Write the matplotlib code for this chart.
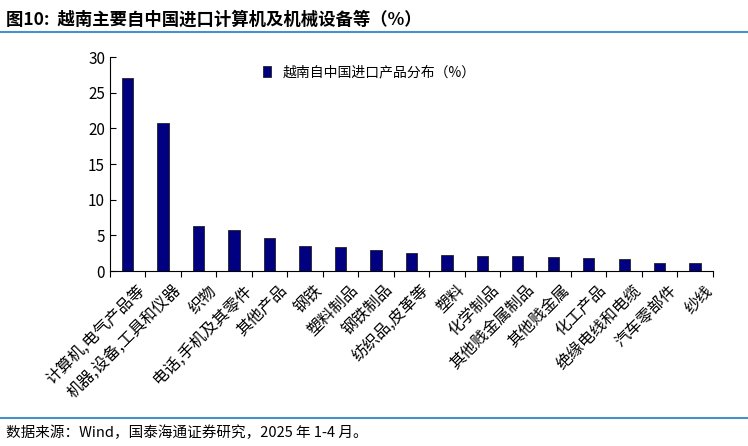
import matplotlib
matplotlib.use("Agg")
import matplotlib.pyplot as plt
from matplotlib.lines import Line2D

plt.rcParams['font.family'] = ['Noto Sans CJK SC', 'DejaVu Sans']

categories = ["计算机,电气产品等", "机器,设备,工具和仪器", "织物", "电话,手机及其零件", "其他产品",
              "钢铁", "塑料制品", "钢铁制品", "纺织品,皮革等", "塑料", "化学制品", "其他贱金属制品",
              "其他贱金属", "化工产品", "绝缘电线和电缆", "汽车零部件", "纱线"]
values = [27.0, 20.7, 6.3, 5.7, 4.6, 3.5, 3.4, 3.0, 2.6, 2.2, 2.1, 2.1, 2.0, 1.9, 1.7, 1.1, 1.1]
yticks = [0, 5, 10, 15, 20, 25, 30]

fig = plt.figure(figsize=(7.48, 4.46), dpi=100)
ax = fig.add_axes([0.147, 0.392, 0.806, 0.48])
x = list(range(len(categories)))
ax.bar(x, values, width=0.32, color='#000080', edgecolor='#222222', linewidth=0.6,
       label='越南自中国进口产品分布（%）')
ax.set_xlim(-0.5, len(categories) - 0.5)
ax.set_ylim(0, 30)
ax.set_yticks(yticks)
ax.tick_params(axis='y', labelsize=11, length=4, direction='in')
ax.set_xticks([i - 0.5 for i in x] + [len(x) - 0.5])
ax.set_xticklabels([])
ax.tick_params(axis='x', length=4, direction='out')
for i, c in enumerate(categories):
    ax.text(i + 0.25, -1.5, c, rotation=45, ha='right', va='top', fontsize=11.5,
            rotation_mode='anchor')
for s in ['top', 'right']:
    ax.spines[s].set_visible(False)
ax.legend(loc='upper center', bbox_to_anchor=(0.43, 1.02), frameon=False, fontsize=10,
          handlelength=0.6, handleheight=0.8)

fig.text(0.008, 0.955, '图10:  越南主要自中国进口计算机及机械设备等（%）', fontsize=12.5,
         fontweight='bold', va='center')
fig.add_artist(Line2D([0, 1], [0.928, 0.928], color='#4a90c8', lw=1.5))
fig.add_artist(Line2D([0, 1], [0.063, 0.063], color='#4a90c8', lw=1.5))
fig.text(0.008, 0.03, '数据来源：Wind，国泰海通证券研究，2025 年 1-4 月。', fontsize=10.5, va='center')
fig.savefig('out.png', dpi=100)
